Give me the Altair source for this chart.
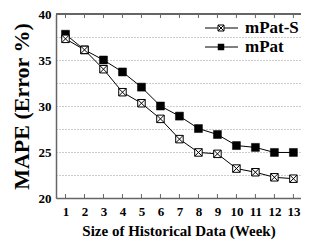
import altair as alt
import pandas as pd

weeks = list(range(1, 14))
mpat_s = [37.3, 36.1, 34.0, 31.5, 30.3, 28.6, 26.4, 24.95, 24.8, 23.2, 22.8, 22.25, 22.1]
mpat = [37.8, 36.1, 35.0, 33.7, 32.05, 30.0, 28.9, 27.55, 26.9, 25.7, 25.5, 24.95, 24.95]
series_names = ["mPat-S", "mPat"]
y_grid = [20, 22.5, 25, 27.5, 30, 32.5, 35, 37.5, 40]

W, H = 245, 184
FONT = "Liberation Serif, Times New Roman, serif"
AX = "#666666"
XSHAPE = "M-1,-1H1V1H-1ZM-1,-1L1,1M1,-1L-1,1"

df = pd.DataFrame({
    "week": weeks + weeks,
    "mape": mpat_s + mpat,
    "series": [series_names[0]] * len(weeks) + [series_names[1]] * len(weeks),
})
wk = pd.DataFrame({"week": weeks})

x_scale = alt.Scale(domain=[0.5, 13.4], nice=False, zero=False)
y_scale = alt.Scale(domain=[20, 40], nice=False, zero=False)

x_axis = alt.Axis(values=weeks, ticks=False, grid=False, domainColor=AX, domainWidth=1.5,
                  labelFont=FONT, labelFontWeight="bold", labelFontSize=13, labelColor="black",
                  labelPadding=7, labelOverlap=False, labelBound=False, labelFlush=False,
                  title="Size of Historical Data (Week)", titleFont=FONT,
                  titleFontSize=15, titleFontWeight="bold", titleColor="black", titlePadding=5)
y_axis = alt.Axis(values=y_grid, ticks=False, grid=True, gridColor="#999999", gridDash=[1, 2],
                  gridWidth=1, domainColor=AX, domainWidth=1.5,
                  labelExpr="datum.value % 5 == 0 ? datum.label : ''",
                  labelFont=FONT, labelFontWeight="bold", labelFontSize=13, labelColor="black",
                  labelPadding=5, title="MAPE (Error %)", titleFont=FONT, titleFontSize=22,
                  titleFontWeight="bold", titleColor="black", titlePadding=5)

x_enc = alt.X("week:Q", scale=x_scale, axis=x_axis)
y_enc = alt.Y("mape:Q", scale=y_scale, axis=y_axis)

base = alt.Chart(df)
layers = []
for name in series_names:
    sub = base.transform_filter(alt.datum.series == name)
    layers.append(sub.mark_line(color="black", strokeWidth=1).encode(x=x_enc, y=y_enc))
s_layer = base.transform_filter(alt.datum.series == series_names[0]).mark_point(
    shape=XSHAPE, size=56, filled=True, fill="white", stroke="black", strokeWidth=1, opacity=1
).encode(x=x_enc, y=y_enc)
p_layer = base.transform_filter(alt.datum.series == series_names[1]).mark_point(
    shape="square", size=64, filled=True, fill="black", stroke="black", strokeWidth=0.5, opacity=1
).encode(x=x_enc, y=y_enc)
layers += [p_layer, s_layer]

# frame top and inward ticks
top = alt.Chart(wk).mark_rule(color=AX, strokeWidth=1.5).encode(
    x=alt.value(0), x2=alt.value(W), y=alt.value(0))
tick_b = alt.Chart(wk).mark_rule(color=AX, strokeWidth=1).encode(
    x=x_enc, y=alt.value(H - 4), y2=alt.value(H))
tick_t = alt.Chart(wk).mark_rule(color=AX, strokeWidth=1).encode(
    x=x_enc, y=alt.value(0), y2=alt.value(4))
layers += [top, tick_b, tick_t]

# legend
leg_y = [14, 33]
for i, name in enumerate(series_names):
    ld = alt.Chart(pd.DataFrame({"series": [name]}))
    layers.append(ld.mark_rule(color="black", strokeWidth=1).encode(
        x=alt.value(149), x2=alt.value(182), y=alt.value(leg_y[i])))
    if i == 0:
        layers.append(ld.mark_point(shape=XSHAPE, size=36, filled=True, fill="white",
                                    stroke="black", strokeWidth=1, opacity=1).encode(
            x=alt.value(165), y=alt.value(leg_y[i])))
    else:
        layers.append(ld.mark_point(shape="square", size=42, filled=True, fill="black",
                                    opacity=1).encode(
            x=alt.value(165), y=alt.value(leg_y[i])))
    layers.append(ld.mark_text(align="left", baseline="middle", font=FONT, fontSize=17,
                               fontWeight="bold", color="black").encode(
        x=alt.value(189), y=alt.value(leg_y[i]), text="series:N"))

chart = alt.layer(*layers).properties(
    width=W, height=H, autosize="none",
    padding={"left": 48, "top": 6, "right": 0, "bottom": 44},
).configure_view(strokeWidth=0).configure(background="white")

chart.save("out.html", embed_options={"renderer": "svg", "actions": False})
